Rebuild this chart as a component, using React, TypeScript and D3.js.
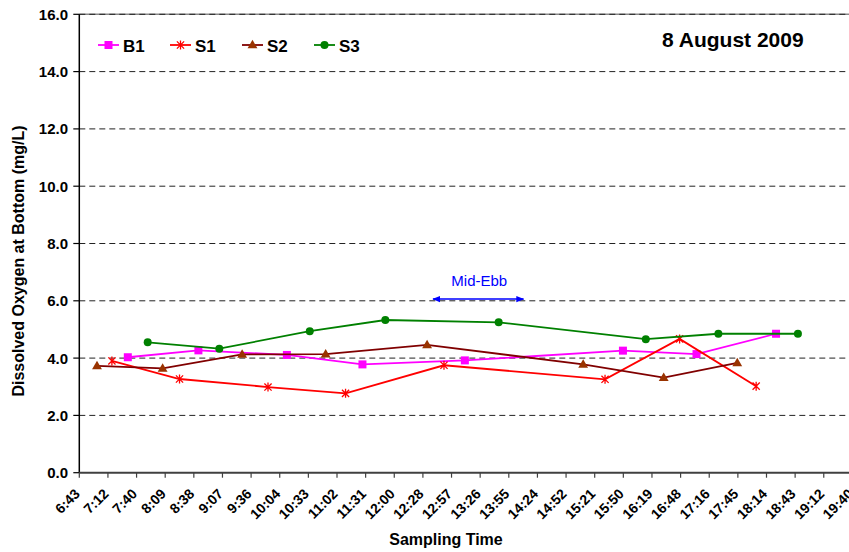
import React from "react";
import * as d3 from "d3";

// sampling times (hh:mm) and DO at bottom (mg/L)
const b1Times = ["7:32", "8:43", "10:12", "11:28", "13:11", "15:50", "17:04", "18:24"];
const b1Values = [4.03, 4.27, 4.11, 3.78, 3.92, 4.26, 4.14, 4.85];

const s1Times = ["7:16", "8:24", "9:53", "11:11", "12:50", "15:32", "16:47", "18:04"];
const s1Values = [3.9, 3.27, 2.99, 2.77, 3.75, 3.26, 4.67, 3.02];

const s2Times = ["7:01", "8:07", "9:27", "10:51", "12:33", "15:10", "16:31", "17:45"];
const s2Values = [3.73, 3.64, 4.13, 4.14, 4.46, 3.78, 3.32, 3.83];

const s3Times = ["7:52", "9:04", "10:35", "11:51", "13:45", "16:13", "17:26", "18:46"];
const s3Values = [4.55, 4.33, 4.94, 5.33, 5.25, 4.66, 4.85, 4.85];

const xTickLabels = [
  "6:43", "7:12", "7:40", "8:09", "8:38", "9:07", "9:36", "10:04", "10:33", "11:02",
  "11:31", "12:00", "12:28", "12:57", "13:26", "13:55", "14:24", "14:52", "15:21", "15:50",
  "16:19", "16:48", "17:16", "17:45", "18:14", "18:43", "19:12", "19:40",
];
const yTicks = [0, 2, 4, 6, 8, 10, 12, 14, 16];

const midEbb = { from: "12:39", to: "14:10", level: 6.06 };

const toMin = (s: string) => {
  const [h, m] = s.split(":").map(Number);
  return h * 60 + m;
};

type Pt = { t: number; v: number };
const zip = (times: string[], vals: number[]): Pt[] =>
  times.map((t, i) => ({ t: toMin(t), v: vals[i] }));

const series = [
  { name: "B1", data: zip(b1Times, b1Values), line: "#FF00FF", mark: "#FF00FF", shape: "square" },
  { name: "S1", data: zip(s1Times, s1Values), line: "#FF0000", mark: "#FF0000", shape: "star" },
  { name: "S2", data: zip(s2Times, s2Values), line: "#800000", mark: "#993300", shape: "triangle" },
  { name: "S3", data: zip(s3Times, s3Values), line: "#008000", mark: "#008000", shape: "circle" },
];

const width = 849;
const height = 552;
const left = 79.3;
const bottom = 472.7;
const top = 14.3;
const font = "Arial, 'Liberation Sans', Helvetica, sans-serif";

// excel time axis: 0.28 day to 0.82 day, major unit 0.02 day
const tStart = 0.28 * 1440;
const tStep = 0.02 * 1440;
const x = d3
  .scaleLinear()
  .domain([tStart, tStart + tStep * (xTickLabels.length - 1)])
  .range([left, 852.4]);
const y = d3.scaleLinear().domain([0, 16]).range([bottom, top]);

function Marker({ shape, color, cx, cy }: { shape: string; color: string; cx: number; cy: number }) {
  if (shape === "square") return <rect x={cx - 4} y={cy - 4} width={8} height={8} fill={color} />;
  if (shape === "circle") return <circle cx={cx} cy={cy} r={4} fill={color} />;
  if (shape === "triangle")
    return <path d={d3.symbol(d3.symbolTriangle, 42)()!} transform={`translate(${cx},${cy + 0.5})`} fill={color} />;
  return (
    <path
      d="M-3.6,-3.6L3.6,3.6M-3.6,3.6L3.6,-3.6M0,-4.5L0,4.5"
      transform={`translate(${cx},${cy})`}
      stroke={color}
      strokeWidth={1.3}
      fill="none"
    />
  );
}

export default function App() {
  const line = d3
    .line<Pt>()
    .x((d) => x(d.t))
    .y((d) => y(d.v));

  const legendX = [98, 170, 242, 314];
  const ax1 = x(toMin(midEbb.from));
  const ax2 = x(toMin(midEbb.to));
  const ay = y(midEbb.level);

  return (
    <svg
      width={width}
      height={height}
      style={{ position: "absolute", left: 0, top: 0, background: "#fff", fontFamily: font }}
    >
      <defs>
        <marker id="arr" viewBox="0 0 10 10" refX="9" refY="5" markerWidth="8" markerHeight="8" orient="auto-start-reverse" markerUnits="userSpaceOnUse">
          <path d="M0,1L10,5L0,9z" fill="#0000FF" />
        </marker>
      </defs>

      {/* grid */}
      <line x1={left} x2={width} y1={y(16)} y2={y(16)} stroke="#888" strokeWidth={1.5} />
      {yTicks.slice(1).map((t) => (
        <line key={t} x1={left} x2={width} y1={y(t)} y2={y(t)} stroke="#222" strokeDasharray="6,4" />
      ))}

      {/* y axis */}
      <line x1={left} x2={left} y1={top} y2={bottom} stroke="#000" strokeWidth={1.5} />
      {yTicks.map((t) => (
        <g key={t}>
          <line x1={left - 6} x2={left} y1={y(t)} y2={y(t)} stroke="#000" strokeWidth={1.2} />
          <text x={68} y={y(t) + 5.5} textAnchor="end" fontSize={15} fontWeight="bold">
            {t.toFixed(1)}
          </text>
        </g>
      ))}
      <text
        transform={`translate(24,261) rotate(-90)`}
        textAnchor="middle"
        fontSize={16}
        fontWeight="bold"
      >
        Dissolved Oxygen at Bottom (mg/L)
      </text>

      {/* x axis */}
      <line x1={left} x2={width} y1={bottom} y2={bottom} stroke="#404040" strokeWidth={2} />
      {xTickLabels.map((lab, i) => {
        const px = x(tStart + i * tStep);
        return (
          <g key={lab}>
            <line x1={px} x2={px} y1={bottom} y2={bottom + 5} stroke="#404040" strokeWidth={1.2} />
            <text
              transform={`translate(${px + 1.5},${bottom + 22}) rotate(-45)`}
              textAnchor="end"
              fontSize={14}
              fontWeight="bold"
            >
              {lab}
            </text>
          </g>
        );
      })}
      <text x={446} y={545} textAnchor="middle" fontSize={16} fontWeight="bold">
        Sampling Time
      </text>

      {/* series */}
      {series.map((s) => (
        <g key={s.name}>
          <path d={line(s.data)!} fill="none" stroke={s.line} strokeWidth={1.8} />
          {s.data.map((d, i) => (
            <Marker key={i} shape={s.shape} color={s.mark} cx={x(d.t)} cy={y(d.v)} />
          ))}
        </g>
      ))}

      {/* mid-ebb annotation */}
      <line x1={ax1} x2={ax2} y1={ay} y2={ay} stroke="#0000FF" strokeWidth={1.5} markerStart="url(#arr)" markerEnd="url(#arr)" />
      <text x={(ax1 + ax2) / 2 + 1} y={286} textAnchor="middle" fontSize={15} fill="#0000FF">
        Mid-Ebb
      </text>

      {/* legend */}
      {series.map((s, i) => (
        <g key={s.name}>
          <line x1={legendX[i]} x2={legendX[i] + 21} y1={45} y2={45} stroke={s.line} strokeWidth={1.8} />
          <Marker shape={s.shape} color={s.mark} cx={legendX[i] + 10.5} cy={45} />
          <text x={legendX[i] + 25} y={51.5} fontSize={17} fontWeight="bold">
            {s.name}
          </text>
        </g>
      ))}

      <text x={662} y={47} fontSize={21} fontWeight="bold">
        8 August 2009
      </text>
    </svg>
  );
}
